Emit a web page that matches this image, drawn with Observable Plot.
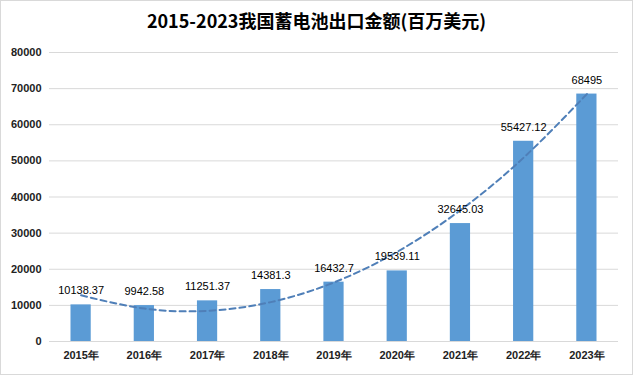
<!DOCTYPE html>
<html><head><meta charset="utf-8">
<script src="https://cdn.jsdelivr.net/npm/d3@7"></script>
<script src="https://cdn.jsdelivr.net/npm/@observablehq/plot@0.6"></script>
<style>
body{margin:0;background:#fff;}
#chart{width:633px;height:375px;position:relative;background:#fff;overflow:hidden;font-family:"Liberation Sans",Arial,sans-serif;}
#frame{position:absolute;left:0;top:0;right:0;bottom:0;border:1px solid #d9d9d9;pointer-events:none;}
#title{height:36px;line-height:40px;text-align:center;font-family:"Noto Sans CJK SC","Liberation Sans",sans-serif;font-weight:bold;font-size:18px;color:#000;}
svg{display:block;}
</style></head>
<body>
<div id="chart"><div id="title">2015-2023我国蓄电池出口金额(百万美元)</div><div id="frame"></div></div>
<script>
const years = [2015, 2016, 2017, 2018, 2019, 2020, 2021, 2022, 2023];
const values = [10138.37, 9942.58, 11251.37, 14381.3, 16432.7, 19539.11, 32645.03, 55427.12, 68495];
const yTicks = [0, 10000, 20000, 30000, 40000, 50000, 60000, 70000, 80000];

const data = years.map((year, i) => ({year, value: values[i]}));

// Quadratic least-squares trendline (as Excel's polynomial trendline, order 2)
function polyFit2(xs, ys) {
  const n = xs.length;
  let s = [0,0,0,0,0], t = [0,0,0];
  xs.forEach((x, i) => {
    for (let k = 0; k < 5; k++) s[k] += Math.pow(x, k);
    for (let k = 0; k < 3; k++) t[k] += Math.pow(x, k) * ys[i];
  });
  const A = [[s[0], s[1], s[2], t[0]], [s[1], s[2], s[3], t[1]], [s[2], s[3], s[4], t[2]]];
  for (let i = 0; i < 3; i++) {
    for (let j = i + 1; j < 3; j++) {
      const f = A[j][i] / A[i][i];
      for (let k = i; k < 4; k++) A[j][k] -= f * A[i][k];
    }
  }
  const c = [0, 0, 0];
  for (let i = 2; i >= 0; i--) {
    let v = A[i][3];
    for (let k = i + 1; k < 3; k++) v -= A[i][k] * c[k];
    c[i] = v / A[i][i];
  }
  return c;
}
const xs = years.map((y, i) => i);
const coef = polyFit2(xs, values);
const trend = years.map((year, i) => ({year, value: coef[0] + coef[1] * i + coef[2] * i * i}));

const chart = Plot.plot({
  width: 633,
  height: 339,
  marginTop: 16,
  marginBottom: 34,
  marginLeft: 49,
  marginRight: 15,
  x: {domain: [2014.5, 2023.5]},
  y: {domain: [0, 80000]},
  style: {fontFamily: "'Liberation Sans', Arial, sans-serif", fontSize: "11px", color: "#222", background: "transparent"},
  marks: [
    Plot.gridY(yTicks, {stroke: "#d9d9d9", strokeOpacity: 1}),
    Plot.axisY(yTicks, {tickSize: 0, tickPadding: 8, fontWeight: "bold", label: null, tickFormat: d => String(d)}),
    Plot.axisX(years, {tickSize: 0, tickPadding: 10, fontWeight: "bold", label: null, tickFormat: d => d + "年"}),
    Plot.rectY(data, {x1: d => d.year - 0.16, x2: d => d.year + 0.16, y: "value", fill: "#5B9BD5"}),
    Plot.line(trend, {x: "year", y: "value", curve: "natural", stroke: "#4f7fb8", strokeWidth: 2, strokeDasharray: "6,4"}),
    Plot.text(data, {x: "year", y: "value", text: d => String(d.value), dy: -14, fontSize: 11, fill: "#000"})
  ]
});
document.getElementById("chart").insertBefore(chart, document.getElementById("frame"));
</script>
</body></html>
